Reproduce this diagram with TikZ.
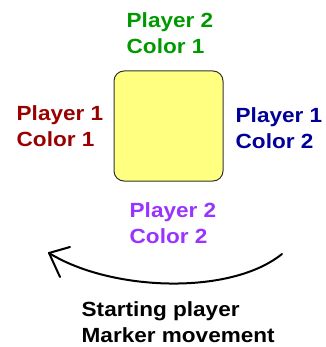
\documentclass[tikz,border=0pt]{standalone}
\usepackage{fontspec}
\setmainfont{Liberation Sans}[FakeStretch=1.1]
\definecolor{pgreen}{HTML}{009900}
\definecolor{pred}{HTML}{990000}
\definecolor{pnavy}{HTML}{000099}
\definecolor{ppurple}{HTML}{9933FF}
\definecolor{boxfill}{HTML}{FFFF80}
\definecolor{boxline}{HTML}{333333}
\tikzset{
  lbl/.style={anchor=north west, inner sep=0pt, align=left,
    font=\fontsize{20.5pt}{26.5pt}\selectfont\bfseries},
  board/.style={draw=boxline, fill=boxfill, line width=1pt, rounded corners=10pt},
  arc/.style={line width=2pt, line cap=round, line join=round}
}
\begin{document}
\begin{tikzpicture}[x=1pt,y=-1pt]
\useasboundingbox (0,0) rectangle (325,347);
\draw[board] (114,71) rectangle (223,181);
\node[lbl, text=pgreen] (top) at (126.5,12.3) {Player 2\\Color 1};
\node[lbl, text=pred] (left) at (16.5,105.3) {Player 1\\Color 1};
\node[lbl, text=pnavy] (right) at (235.5,107.3) {Player 1\\Color 2};
\node[lbl, text=ppurple] (bottom) at (129.5,202) {Player 2\\Color 2};
\node[lbl, text=black] (start) at (81.5,301.3) {Starting player\\Marker movement};
\coordinate (arcstart) at (282,254);
\coordinate (tip) at (49,253);
\coordinate (armA) at (70,247);
\coordinate (armB) at (60,277);
\draw[arc] (arcstart) .. controls (230,296) and (110,291) .. (tip);
\draw[arc] (armA) -- (tip) -- (armB);
\end{tikzpicture}
\end{document}
